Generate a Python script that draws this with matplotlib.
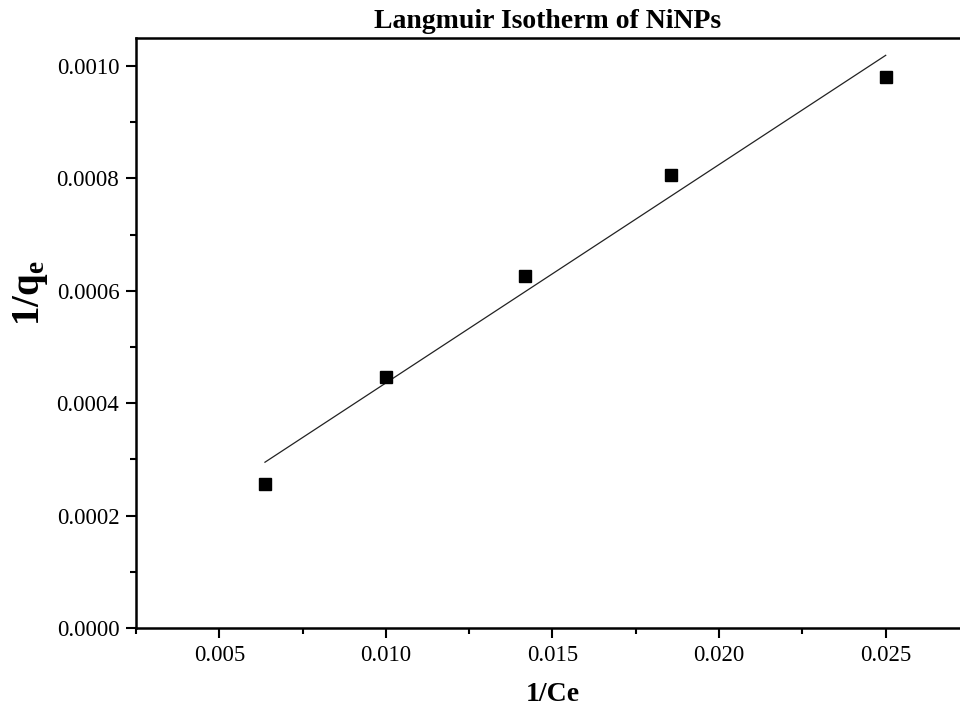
import numpy as np
import matplotlib
matplotlib.use("Agg")
import matplotlib.pyplot as plt
from matplotlib.ticker import MultipleLocator, FormatStrFormatter

inv_ce = [0.00637, 0.0100, 0.01417, 0.01855, 0.0250]
inv_qe = [0.000257, 0.000446, 0.000627, 0.000807, 0.000980]
x_ticks = [0.005, 0.010, 0.015, 0.020, 0.025]
y_ticks = [0.0000, 0.0002, 0.0004, 0.0006, 0.0008, 0.0010]

plt.rcParams['font.family'] = ['Liberation Serif', 'DejaVu Serif']
plt.rcParams['mathtext.fontset'] = 'custom'
plt.rcParams['mathtext.rm'] = 'Liberation Serif:bold'
plt.rcParams['mathtext.it'] = 'Liberation Serif:bold'
plt.rcParams['mathtext.bf'] = 'Liberation Serif:bold'

fig = plt.figure(figsize=(9.6, 7.11), dpi=100)
ax = fig.add_axes([136/960, 83/711, (969-136)/960, (628-38)/711])

slope, intercept = np.polyfit(inv_ce, inv_qe, 1)
xs = np.array([inv_ce[0], inv_ce[-1]])
ax.plot(xs, slope*xs + intercept, color='#222222', lw=0.9)
ax.plot(inv_ce, inv_qe, 's', color='black', markersize=9, linestyle='none')

ax.set_xlim(0.0025, 0.0275)
ax.set_ylim(0, 0.00105)
ax.set_xticks(x_ticks)
ax.set_yticks(y_ticks)
ax.xaxis.set_minor_locator(MultipleLocator(0.0025))
ax.yaxis.set_minor_locator(MultipleLocator(0.0001))
ax.xaxis.set_major_formatter(FormatStrFormatter('%.3f'))
ax.yaxis.set_major_formatter(FormatStrFormatter('%.4f'))
ax.tick_params(which='major', direction='out', length=7, width=1.5, labelsize=16.5, pad=5)
ax.tick_params(which='minor', direction='out', length=4, width=1.5)
for s in ax.spines.values():
    s.set_linewidth(1.8)

ax.set_title('Langmuir Isotherm of NiNPs', fontsize=20, fontweight='bold', pad=7, x=0.494)
ax.set_xlabel('1/Ce', fontsize=20, fontweight='bold', labelpad=12)
ax.set_ylabel(r'$\mathrm{1/q_e}$', fontsize=28)
ax.yaxis.set_label_coords(-0.103, 0.568)

fig.savefig('out.png', dpi=100)
